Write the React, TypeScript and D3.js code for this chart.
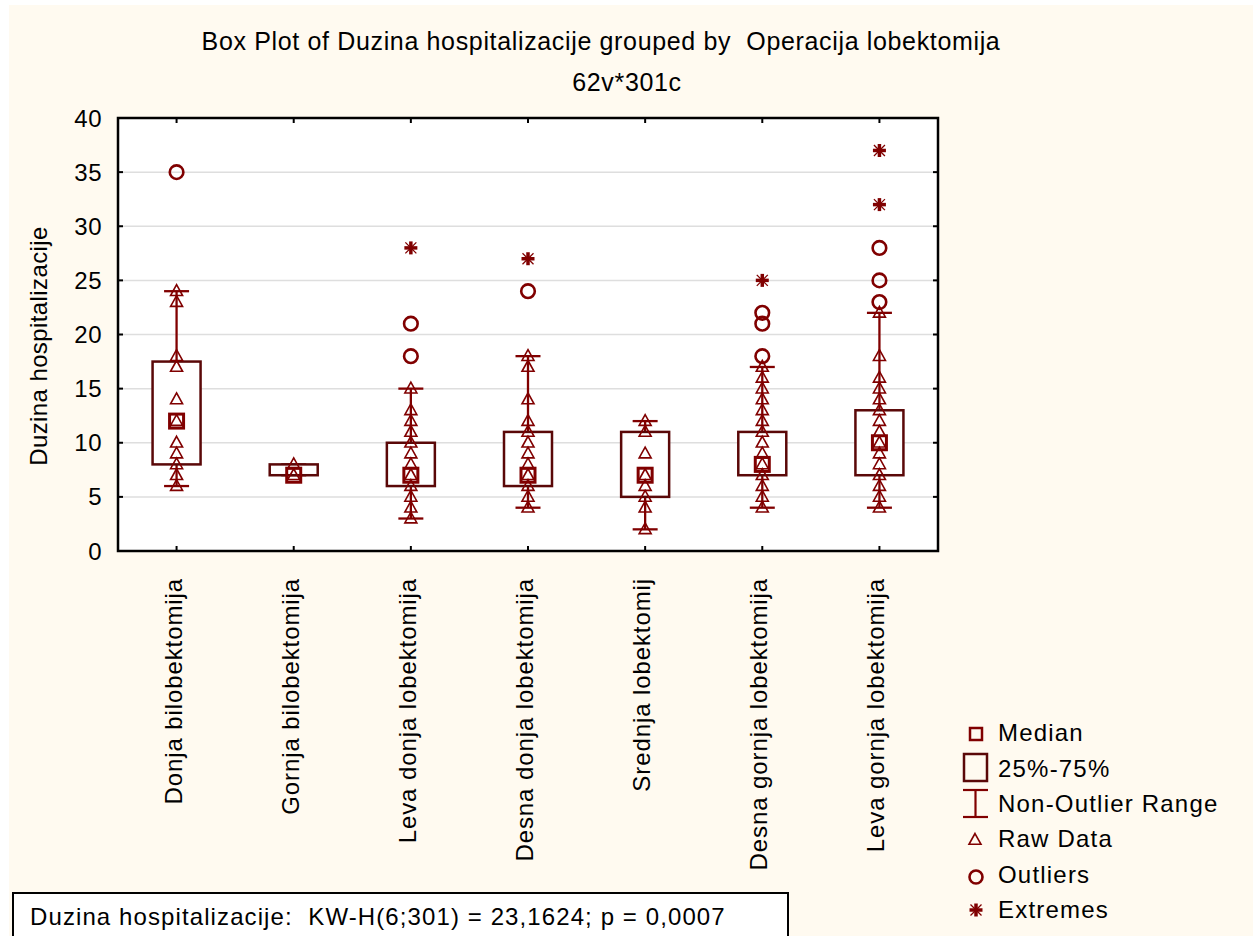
import React from "react";
import * as d3 from "d3";

const categories = [
  "Donja bilobektomija",
  "Gornja bilobektomija",
  "Leva donja lobektomija",
  "Desna donja lobektomija",
  "Srednja lobektomij",
  "Desna gornja lobektomija",
  "Leva gornja lobektomija",
];
const q1 = [8, 7, 6, 6, 5, 7, 7];
const q3 = [17.5, 8, 10, 11, 11, 11, 13];
const medians = [12, 7, 7, 7, 7, 8, 10];
const whiskerLow = [6, 7, 3, 4, 2, 4, 4];
const whiskerHigh = [24, 8, 15, 18, 12, 17, 22];
const rawData = [
  [24, 23, 18, 17, 14, 12, 10, 9, 8, 7, 6],
  [8, 7],
  [15, 13, 12, 11, 10, 9, 8, 7, 6, 5, 4, 3],
  [18, 17, 14, 12, 11, 10, 9, 8, 7, 6, 5, 4],
  [12, 11, 9, 7, 6, 5, 4, 2],
  [17, 16, 15, 14, 13, 12, 11, 10, 9, 8, 7, 6, 5, 4],
  [22, 18, 16, 15, 14, 13, 12, 11, 10, 9, 8, 7, 6, 5, 4],
];
const outliers = [[35], [], [21, 18], [24], [], [22, 21, 18], [28, 25, 23]];
const extremes = [[], [], [28], [27], [], [25], [37, 32]];
const yTicks = [0, 5, 10, 15, 20, 25, 30, 35, 40];
const legendItems = ["Median", "25%-75%", "Non-Outlier Range", "Raw Data", "Outliers", "Extremes"];
const titleLine1 = "Box Plot of Duzina hospitalizacije grouped by  Operacija lobektomija";
const titleLine2 = "62v*301c";
const yTitle = "Duzina hospitalizacije";
const statText = "Duzina hospitalizacije:  KW-H(6;301) = 23,1624; p = 0,0007";

const W = 1253;
const H = 936;
const L = 118, R = 938, T = 118, B = 551;
const RED = "#800000";
const BOXC = "#5a0808";
const FONT = "'Liberation Sans', Arial, Helvetica, sans-serif";

const x = d3.scaleBand<string>().domain(categories).range([L, R]).padding(0);
const y = d3.scaleLinear().domain([0, 40]).range([B, T]);

function Triangle({ cx, cy, s = 12 }: { cx: number; cy: number; s?: number }) {
  const h = s * 0.9;
  const p = d3.path();
  p.moveTo(cx, cy - h * 0.6);
  p.lineTo(cx + s / 2, cy + h * 0.4);
  p.lineTo(cx - s / 2, cy + h * 0.4);
  p.closePath();
  return <path d={p.toString()} fill="none" stroke={RED} strokeWidth={1.6} />;
}

function Asterisk({ cx, cy }: { cx: number; cy: number }) {
  const a = 6.5, b = 5.5;
  return (
    <g stroke={RED}>
      <line x1={cx} y1={cy - a} x2={cx} y2={cy + a} strokeWidth={3.5} />
      <line x1={cx - a} y1={cy} x2={cx + a} y2={cy} strokeWidth={3.5} />
      <line x1={cx - b} y1={cy - b} x2={cx + b} y2={cy + b} strokeWidth={1.3} />
      <line x1={cx - b} y1={cy + b} x2={cx + b} y2={cy - b} strokeWidth={1.3} />
    </g>
  );
}

export default function App() {
  const bw = x.bandwidth();
  const boxW = 48;
  const capW = 25;
  const textStyle: React.CSSProperties = { whiteSpace: "pre" };
  const legX = 976;
  const legBase = [741, 777, 812, 847, 883, 918];
  return (
    <svg
      width={W}
      height={H}
      style={{ position: "absolute", left: 0, top: 0, display: "block" }}
      fontFamily={FONT}
    >
      <rect x={0} y={0} width={W} height={H} fill="#ffffff" />
      <rect x={9} y={5} width={W - 9} height={H - 5} fill="#fffaf0" />

      {/* titles */}
      <text x={601} y={50} textAnchor="middle" fontSize={25} letterSpacing={0.65} style={textStyle}>
        {titleLine1}
      </text>
      <text x={627} y={91} textAnchor="middle" fontSize={25} letterSpacing={0.65}>
        {titleLine2}
      </text>

      {/* plot area */}
      <rect x={L} y={T} width={R - L} height={B - T} fill="#ffffff" />
      {yTicks.slice(1, -1).map((t) => (
        <line key={"g" + t} x1={L} x2={R} y1={y(t)} y2={y(t)} stroke="#dedede" strokeWidth={1.5} />
      ))}

      {/* boxes */}
      {categories.map((c, i) => {
        const cx = (x(c) as number) + bw / 2;
        return (
          <g key={c}>
            <line x1={cx} x2={cx} y1={y(whiskerHigh[i])} y2={y(whiskerLow[i])} stroke={RED} strokeWidth={2.3} />
            <line x1={cx - capW / 2} x2={cx + capW / 2} y1={y(whiskerHigh[i])} y2={y(whiskerHigh[i])} stroke={RED} strokeWidth={2.3} />
            <line x1={cx - capW / 2} x2={cx + capW / 2} y1={y(whiskerLow[i])} y2={y(whiskerLow[i])} stroke={RED} strokeWidth={2.3} />
            <rect
              x={cx - boxW / 2}
              y={y(q3[i])}
              width={boxW}
              height={y(q1[i]) - y(q3[i])}
              fill="#ffffff"
              stroke={BOXC}
              strokeWidth={2.5}
            />
            {rawData[i].map((v, j) => (
              <Triangle key={"t" + j} cx={cx} cy={y(v)} />
            ))}
            <rect x={cx - 7} y={y(medians[i]) - 7} width={14} height={14} fill="none" stroke={RED} strokeWidth={3} />
            {outliers[i].map((v, j) => (
              <circle key={"o" + j} cx={cx} cy={y(v)} r={6.8} fill="none" stroke={RED} strokeWidth={2.6} />
            ))}
            {extremes[i].map((v, j) => (
              <Asterisk key={"e" + j} cx={cx} cy={y(v)} />
            ))}
          </g>
        );
      })}

      {/* frame and ticks */}
      <rect x={L} y={T} width={R - L} height={B - T} fill="none" stroke="#000" strokeWidth={2.5} />
      {yTicks.map((t) => (
        <g key={"yt" + t}>
          <line x1={L} x2={L + 5} y1={y(t)} y2={y(t)} stroke="#000" strokeWidth={2} />
          <line x1={R - 5} x2={R} y1={y(t)} y2={y(t)} stroke="#000" strokeWidth={2} />
          <text x={102} y={y(t) + 8.5} textAnchor="end" fontSize={24} letterSpacing={0.5}>
            {t}
          </text>
        </g>
      ))}
      {categories.map((c) => {
        const cx = (x(c) as number) + bw / 2;
        return (
          <g key={"xt" + c}>
            <line x1={cx} x2={cx} y1={T} y2={T + 5} stroke="#000" strokeWidth={2} />
            <line x1={cx} x2={cx} y1={B - 5} y2={B} stroke="#000" strokeWidth={2} />
            <text
              transform={`translate(${cx + 5},578) rotate(-90)`}
              textAnchor="end"
              fontSize={24}
              letterSpacing={0.9}
            >
              {c}
            </text>
          </g>
        );
      })}

      {/* y title */}
      <text transform="translate(47,346) rotate(-90)" textAnchor="middle" fontSize={24} letterSpacing={0.4}>
        {yTitle}
      </text>

      {/* legend */}
      <g>
        <rect x={legX - 6} y={728} width={12} height={12} fill="none" stroke={RED} strokeWidth={2.5} />
        <rect x={964} y={754} width={23} height={27} fill="none" stroke={BOXC} strokeWidth={2.5} />
        <line x1={975.5} x2={975.5} y1={790} y2={817} stroke={RED} strokeWidth={2.2} />
        <line x1={963} x2={988} y1={790} y2={790} stroke={RED} strokeWidth={2.2} />
        <line x1={963} x2={988} y1={817} y2={817} stroke={RED} strokeWidth={2.2} />
        <Triangle cx={legX - 1} cy={840} s={12} />
        <circle cx={legX} cy={877} r={6.5} fill="none" stroke={RED} strokeWidth={2.6} />
        <Asterisk cx={legX} cy={910} />
        {legendItems.map((t, i) => (
          <text key={t} x={998} y={legBase[i]} fontSize={24} letterSpacing={1.2}>
            {t}
          </text>
        ))}
      </g>

      {/* stats box */}
      <rect x={13} y={893} width={775} height={60} fill="#ffffff" stroke="#000" strokeWidth={2} />
      <text x={30} y={925} fontSize={24} letterSpacing={1.1} style={textStyle}>
        {statText}
      </text>
    </svg>
  );
}
